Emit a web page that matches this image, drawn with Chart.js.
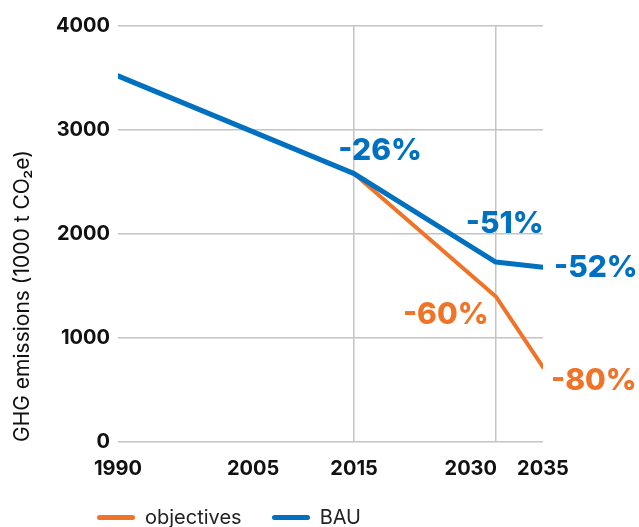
<!DOCTYPE html>
<html>
<head>
<meta charset="utf-8">
<script src="https://cdn.jsdelivr.net/npm/chart.js@4/dist/chart.umd.min.js"></script>
<style>
  html, body { margin: 0; padding: 0; background: #fff; }
  #wrap { position: relative; width: 639px; height: 527px; }
  #legend {
    position: absolute; left: 97px; top: 505px;
    display: flex; align-items: center;
    font-family: Inter, "Noto Sans", sans-serif; font-size: 20px; color: #222;
  }
  .item { display: flex; align-items: center; margin-right: 30px; }
  .swatch { width: 38px; height: 5px; border-radius: 3px; margin-right: 10px; }
</style>
</head>
<body>
<div id="wrap">
  <canvas id="chart" width="639" height="527"></canvas>
  <div id="legend"></div>
</div>
<script>
const years = [1990, 2005, 2015, 2030, 2035];
const bau = [3520, null, 2580, 1730, 1680];
const objectives = [null, null, 2580, 1400, 720];
const bauLabels = ["", "", "-26%", "-51%", "-52%"];
const objectiveLabels = ["", "", "", "-60%", "-80%"];
const yTicks = [0, 1000, 2000, 3000, 4000];

const colors = { bau: "#0070c0", objectives: "#f07428", grid: "#c4c4c4", text: "#111" };
const fontFamily = "Inter, 'Noto Sans', sans-serif";

// build {x, y, label} points, skipping years with no value
const toPoints = (values, labels) =>
  years
    .map((yr, i) => ({ x: yr, y: values[i], label: labels[i] }))
    .filter((p) => p.y !== null);

// where each percentage label sits relative to its point: [dx, dy, textAlign]
const labelPlacement = {
  "-26%": [26, -23, "center"],
  "-51%": [9, -38, "center"],
  "-52%": [11, 1, "left"],
  "-60%": [-50, 19, "center"],
  "-80%": [8, 14, "left"],
};

const pointLabels = {
  id: "pointLabels",
  afterDatasetsDraw(chart) {
    const { ctx } = chart;
    ctx.save();
    ctx.font = `800 30px ${fontFamily}`;
    ctx.textBaseline = "middle";
    chart.data.datasets.forEach((ds, i) => {
      const meta = chart.getDatasetMeta(i);
      ds.data.forEach((p, j) => {
        if (!p.label) return;
        const el = meta.data[j];
        const [dx, dy, align] = labelPlacement[p.label];
        ctx.fillStyle = ds.borderColor;
        ctx.textAlign = align;
        ctx.fillText(p.label, el.x + dx, el.y + dy);
      });
    });
    ctx.restore();
  },
};

// x labels for 2005 and 2030 sit a bit left of their year in the original
const xLabelText = {
  1990: "1990",
  2005: "2005\u2002\u2009",
  2015: "2015",
  2030: "2030\u2003\u2003\u2002",
  2035: "2035",
};

const chart = new Chart(document.getElementById("chart"), {
  type: "line",
  plugins: [pointLabels],
  data: {
    datasets: [
      {
        label: "BAU",
        data: toPoints(bau, bauLabels),
        borderColor: colors.bau,
        borderWidth: 5,
      },
      {
        label: "objectives",
        data: toPoints(objectives, objectiveLabels),
        borderColor: colors.objectives,
        borderWidth: 4,
      },
    ],
  },
  options: {
    responsive: false,
    animation: false,
    layout: { padding: { left: 10, right: 96, top: 26, bottom: 31 } },
    elements: {
      point: { radius: 0, hoverRadius: 0 },
      line: { tension: 0, borderCapStyle: "round", borderJoinStyle: "round" },
    },
    plugins: {
      legend: { display: false },
      tooltip: { enabled: false },
    },
    scales: {
      x: {
        type: "linear",
        min: years[0],
        max: years[years.length - 1],
        afterBuildTicks: (scale) => {
          scale.ticks = years.map((v) => ({ value: v }));
        },
        ticks: {
          autoSkip: false,
          maxRotation: 0,
          padding: 15,
          color: colors.text,
          font: { family: fontFamily, size: 20, weight: "bold" },
          callback: (v) => xLabelText[v],
        },
        grid: {
          drawTicks: false,
          lineWidth: 1.5,
          color: (c) => (c.tick && (c.tick.value === 2015 || c.tick.value === 2030) ? colors.grid : "rgba(0,0,0,0)"),
        },
        border: { display: false },
      },
      y: {
        min: 0,
        max: 4000,
        afterBuildTicks: (scale) => {
          scale.ticks = yTicks.map((v) => ({ value: v }));
        },
        afterFit: (scale) => {
          scale.width = 108;
        },
        ticks: {
          padding: 8,
          color: colors.text,
          font: { family: fontFamily, size: 20, weight: "bold" },
          callback: (v) => String(v),
        },
        grid: { drawTicks: false, lineWidth: 1.5, color: colors.grid },
        border: { display: false },
        title: {
          display: true,
          text: "GHG emissions (1000 t CO\u2082e)",
          align: "start",
          color: colors.text,
          padding: { top: 0, bottom: 0 },
          font: { family: fontFamily, size: 21 },
        },
      },
    },
  },
});

// legend below the plot, objectives first as in the original
const legend = document.getElementById("legend");
["objectives", "BAU"].forEach((name) => {
  const ds = chart.data.datasets.find((d) => d.label === name);
  const item = document.createElement("div");
  item.className = "item";
  const sw = document.createElement("span");
  sw.className = "swatch";
  sw.style.background = ds.borderColor;
  const txt = document.createElement("span");
  txt.textContent = name;
  item.append(sw, txt);
  legend.append(item);
});
</script>
</body>
</html>
